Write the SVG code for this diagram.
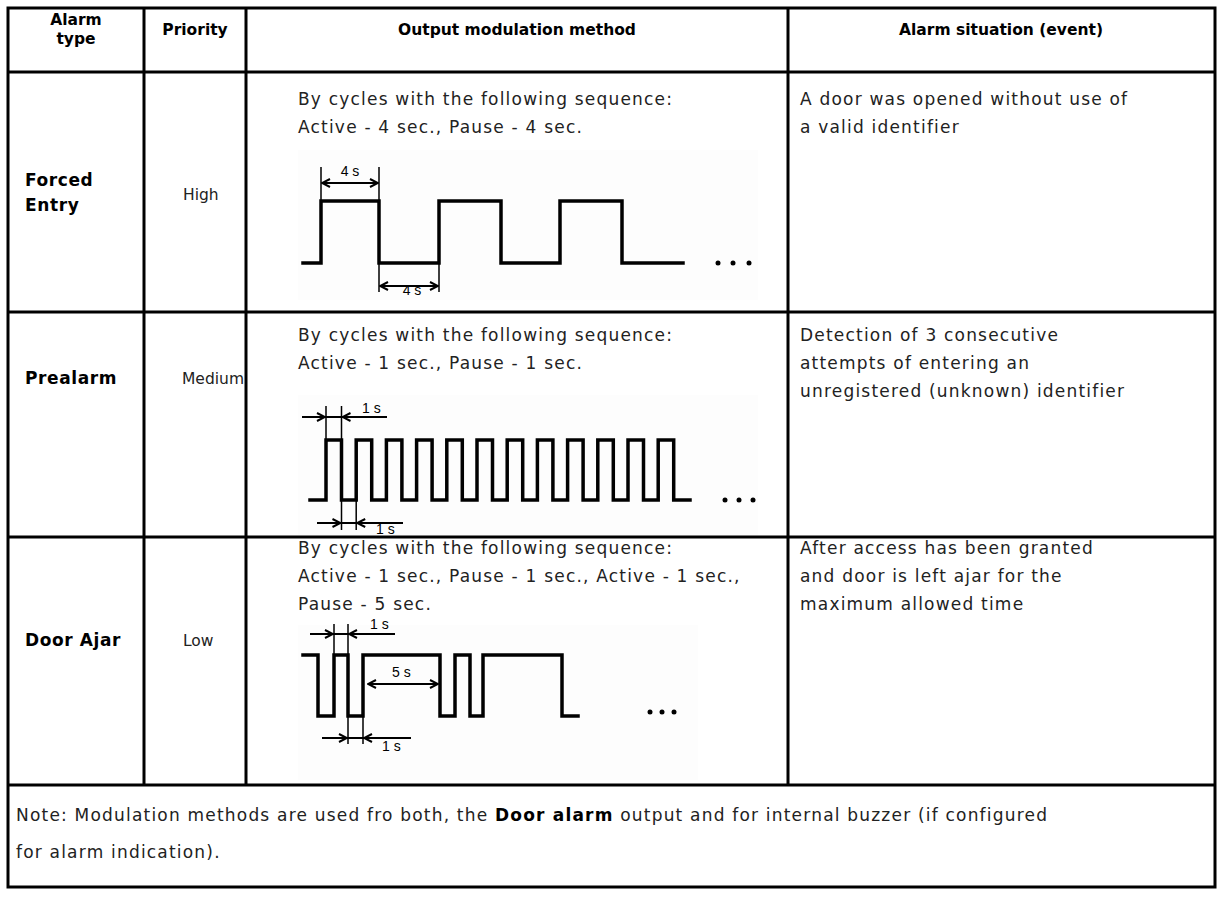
<svg xmlns="http://www.w3.org/2000/svg" width="1217" height="918" viewBox="0 0 1217 918">
<style>
.grid{stroke:#000;stroke-width:3;fill:none}
.hdr{font-family:"DejaVu Sans",Verdana,sans-serif;font-weight:bold;font-size:15.5px;fill:#000}
.lab{font-family:"DejaVu Sans",Verdana,sans-serif;font-weight:bold;font-size:17px;letter-spacing:0.6px;fill:#000}
.txt{font-family:"DejaVu Sans",Verdana,sans-serif;font-size:17px;letter-spacing:1.2px;fill:#222}
.pri{font-family:"DejaVu Sans",Verdana,sans-serif;font-size:15.5px;fill:#222}
.wave{stroke:#000;stroke-width:3.5;fill:none;stroke-linejoin:miter;stroke-linecap:square}
.ext{stroke:#000;stroke-width:1.5;fill:none}
.dim{stroke:#000;stroke-width:2;fill:none}
.sl{font-family:"Liberation Sans",Arial,sans-serif;font-size:14px;fill:#000}
.bg{fill:#fdfdfd}
</style>
<defs>
<marker id="ah" viewBox="0 0 10 10" refX="9" refY="5" markerWidth="10" markerHeight="10" markerUnits="userSpaceOnUse" orient="auto-start-reverse">
<path d="M1,1 L9,5 L1,9" fill="none" stroke="#000" stroke-width="2"/>
</marker>
</defs>
<rect width="1217" height="918" fill="#fff"/>
<g id="table">
<rect class="grid" x="8" y="8" width="1207" height="879"/>
<line class="grid" x1="8" y1="72" x2="1215" y2="72"/>
<line class="grid" x1="8" y1="312" x2="1215" y2="312"/>
<line class="grid" x1="8" y1="537" x2="1215" y2="537"/>
<line class="grid" x1="8" y1="785" x2="1215" y2="785"/>
<line class="grid" x1="144" y1="8" x2="144" y2="785"/>
<line class="grid" x1="246" y1="8" x2="246" y2="785"/>
<line class="grid" x1="788" y1="8" x2="788" y2="785"/>
</g>
<g id="header">
<text class="hdr" x="76" y="25" text-anchor="middle">Alarm</text>
<text class="hdr" x="76" y="44" text-anchor="middle">type</text>
<text class="hdr" x="195" y="35" text-anchor="middle">Priority</text>
<text class="hdr" x="517" y="35" text-anchor="middle">Output modulation method</text>
<text class="hdr" x="1001" y="35" text-anchor="middle">Alarm situation (event)</text>
</g>
<g id="row-forced-entry">
<text class="lab" x="25" y="186">Forced</text>
<text class="lab" x="25" y="211">Entry</text>
<text class="pri" x="183" y="200">High</text>
<text class="txt" x="298" y="105">By cycles with the following sequence:</text>
<text class="txt" x="298" y="133">Active - 4 sec., Pause - 4 sec.</text>
<text class="txt" x="800" y="105">A door was opened without use of</text>
<text class="txt" x="800" y="133">a valid identifier</text>
</g>
<g id="wave-forced-entry">
<rect class="bg" x="298" y="150" width="460" height="150"/>
<path class="wave" d="M303,263 H321 V201 H379 V263 H439 V201 H501 V263 H560 V201 H622 V263 H683"/>
<circle cx="718" cy="263" r="2.5"/><circle cx="733" cy="263" r="2.5"/><circle cx="749" cy="263" r="2.5"/>
<path class="ext" d="M321,167 V201 M379,167 V201 M379,263 V292 M439,263 V292"/>
<path class="dim" d="M322,183 H378" marker-start="url(#ah)" marker-end="url(#ah)"/>
<path class="dim" d="M380,286 H438" marker-start="url(#ah)" marker-end="url(#ah)"/>
<text class="sl" x="350" y="176" text-anchor="middle">4 s</text>
<text class="sl" x="412" y="295" text-anchor="middle">4 s</text>
</g>
<g id="row-prealarm">
<text class="lab" x="25" y="384">Prealarm</text>
<text class="pri" x="182" y="384">Medium</text>
<text class="txt" x="298" y="341">By cycles with the following sequence:</text>
<text class="txt" x="298" y="369">Active - 1 sec., Pause - 1 sec.</text>
<text class="txt" x="800" y="341">Detection of 3 consecutive</text>
<text class="txt" x="800" y="369">attempts of entering an</text>
<text class="txt" x="800" y="397">unregistered (unknown) identifier</text>
</g>
<g id="wave-prealarm">
<rect class="bg" x="298" y="395" width="460" height="140"/>
<path class="wave" d="M310,500 H326 V440 H341.5 V500 H356.2 V440 H371.7 V500 H386.4 V440 H401.9 V500 H416.6 V440 H432.1 V500 H446.8 V440 H462.3 V500 H477 V440 H492.5 V500 H507.2 V440 H522.7 V500 H537.4 V440 H552.9 V500 H567.6 V440 H583.1 V500 H597.8 V440 H613.3 V500 H628 V440 H643.5 V500 H658.2 V440 H673.7 V500 H690"/>
<circle cx="725" cy="500" r="2.5"/><circle cx="739" cy="500" r="2.5"/><circle cx="753" cy="500" r="2.5"/>
<path class="ext" d="M326,406 V440 M341.5,406 V440 M341.5,500 V530 M356.2,500 V530"/>
<path class="dim" d="M302,417 H387 M317,523 H403"/>
<path class="dim" d="M303,417 H325" marker-end="url(#ah)"/>
<path class="dim" d="M386,417 H342.5" marker-end="url(#ah)"/>
<path class="dim" d="M318,523 H340.5" marker-end="url(#ah)"/>
<path class="dim" d="M402,523 H357.2" marker-end="url(#ah)"/>
<text class="sl" x="362" y="413">1 s</text>
<text class="sl" x="376" y="534">1 s</text>
</g>
<g id="row-door-ajar">
<text class="lab" x="25" y="646">Door Ajar</text>
<text class="pri" x="183" y="646">Low</text>
<text class="txt" x="298" y="554">By cycles with the following sequence:</text>
<text class="txt" x="298" y="582">Active - 1 sec., Pause -  1 sec., Active - 1 sec.,</text>
<text class="txt" x="298" y="610">Pause - 5 sec.</text>
<text class="txt" x="800" y="554">After access has been granted</text>
<text class="txt" x="800" y="582">and door is left ajar for the</text>
<text class="txt" x="800" y="610">maximum allowed time</text>
</g>
<g id="wave-door-ajar">
<rect class="bg" x="298" y="625" width="400" height="155"/>
<path class="wave" d="M303,655 H318 V716 H334 V655 H348 V716 H363 V655 H440 V716 H455 V655 H470 V716 H483 V655 H562 V716 H578"/>
<circle cx="650" cy="712" r="2.5"/><circle cx="662" cy="712" r="2.5"/><circle cx="674" cy="712" r="2.5"/>
<path class="ext" d="M334,624 V655 M348,624 V655 M348,716 V744 M363,716 V744"/>
<path class="dim" d="M310,634 H395 M322,738 H411"/>
<path class="dim" d="M311,634 H333" marker-end="url(#ah)"/>
<path class="dim" d="M394,634 H349" marker-end="url(#ah)"/>
<path class="dim" d="M323,738 H347" marker-end="url(#ah)"/>
<path class="dim" d="M410,738 H364" marker-end="url(#ah)"/>
<path class="dim" d="M368,684 H438" marker-start="url(#ah)" marker-end="url(#ah)"/>
<text class="sl" x="370" y="629">1 s</text>
<text class="sl" x="392" y="677">5 s</text>
<text class="sl" x="382" y="751">1 s</text>
</g>
<g id="note">
<text class="txt" x="16" y="821">Note: Modulation methods are used fro both, the <tspan font-weight="bold" fill="#000">Door alarm</tspan> output and for internal buzzer (if configured</text>
<text class="txt" x="16" y="858">for alarm indication).</text>
</g>
</svg>
